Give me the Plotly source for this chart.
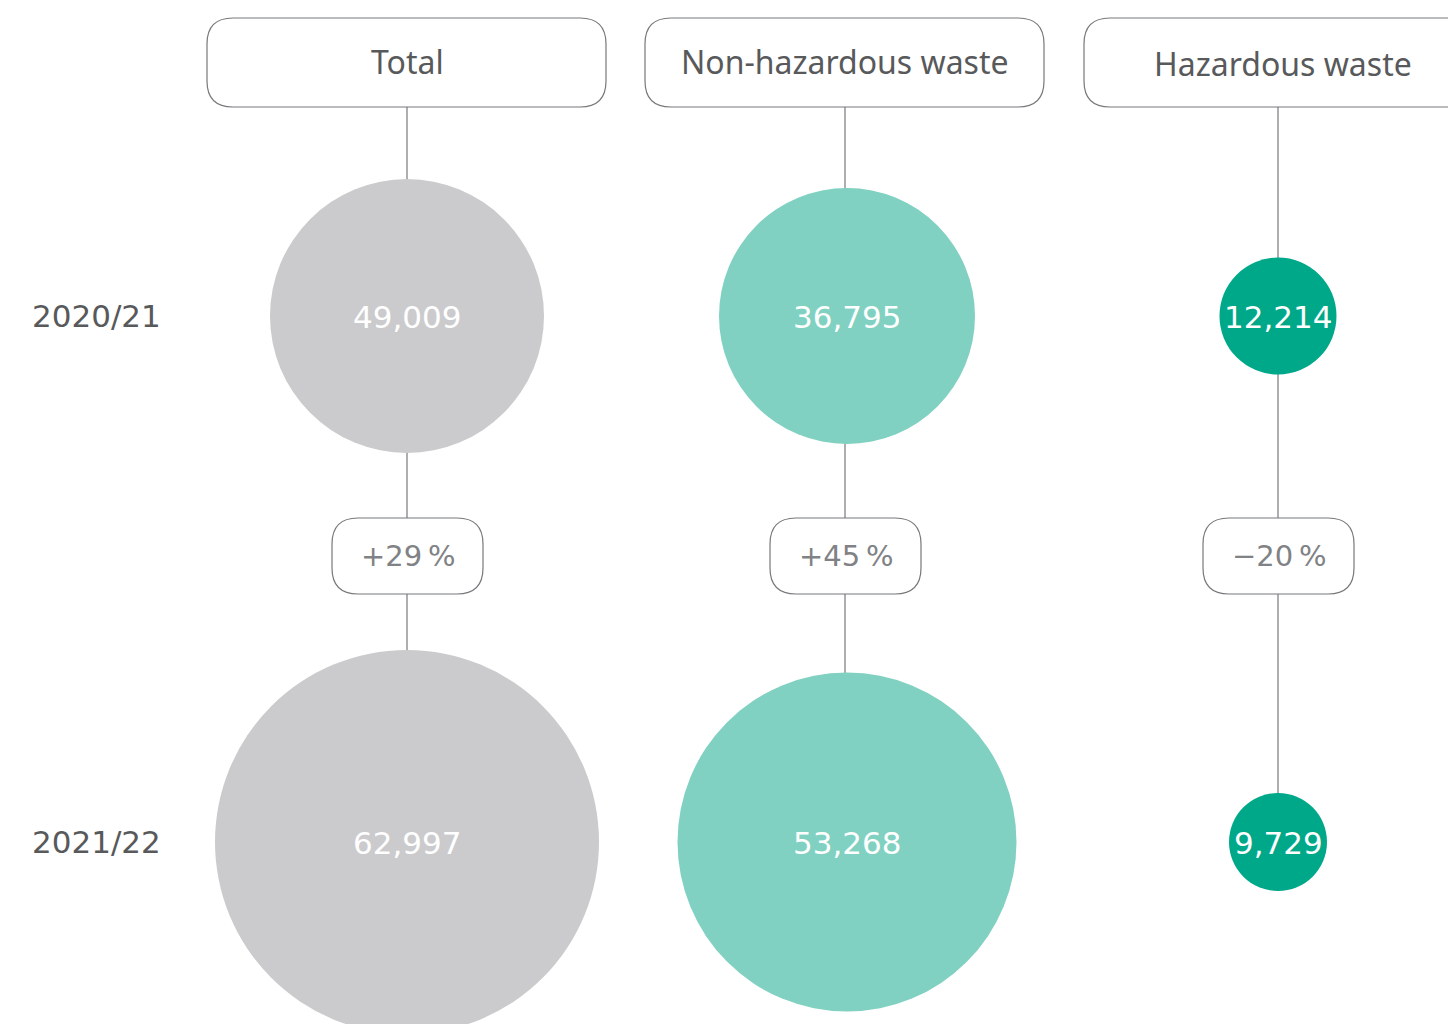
import plotly.graph_objects as go

# ---- data ----
categories = ["Total", "Non-hazardous waste", "Hazardous waste"]
years = ["2020/21", "2021/22"]
values_2020_21 = [49009, 36795, 12214]
values_2021_22 = [62997, 53268, 9729]
changes = ["+29\u2009%", "+45\u2009%", "\u221220\u2009%"]

# ---- layout / style (pixel space) ----
W, H = 1456, 1024
OFF = 8  # page body margin
col_x = [407, 845, 1278]
circle_dx = [0, 2, 0]
row_y = [316, 842]
diam_2020_21 = [274, 256, 117]
diam_2021_22 = [384, 339, 98]
colors = ["#cbcbcd", "#80d1c1", "#00a88a"]
header_boxes = [(207, 606), (645, 1044), (1084, 1500)]
header_top, header_bot = 18, 107
pill_half_w, pill_top, pill_bot = 76, 518, 594
line_col = "#77787b"
text_col = "#58595b"
HFONT = "Noto Sans"
NFONT = "DejaVu Sans"


def rounded_rect(x0, y0, x1, y1, r):
    return (f"M {x0+r},{y0} L {x1-r},{y0} Q {x1},{y0} {x1},{y0+r} "
            f"L {x1},{y1-r} Q {x1},{y1} {x1-r},{y1} L {x0+r},{y1} "
            f"Q {x0},{y1} {x0},{y1-r} L {x0},{y0+r} Q {x0},{y0} {x0+r},{y0} Z")


shapes = []
for i, cx in enumerate(col_x):
    shapes.append(dict(type="line", x0=cx, x1=cx, y0=header_bot, y1=row_y[1],
                       line=dict(color=line_col, width=1.2), layer="below"))
for (x0, x1) in header_boxes:
    shapes.append(dict(type="path", path=rounded_rect(x0, header_top, x1, header_bot, 26),
                       fillcolor="white", line=dict(color=line_col, width=1.2), layer="below"))
for cx in col_x:
    shapes.append(dict(type="path",
                       path=rounded_rect(cx - pill_half_w + 1, pill_top, cx + pill_half_w, pill_bot, 26),
                       fillcolor="white", line=dict(color=line_col, width=1.2), layer="below"))

fig = go.Figure()
annotations = []

for yi, (vals, diams) in enumerate([(values_2020_21, diam_2020_21), (values_2021_22, diam_2021_22)]):
    xs = [cx + d for cx, d in zip(col_x, circle_dx)]
    fig.add_trace(go.Scatter(
        x=xs,
        y=[row_y[yi]] * len(vals),
        mode="markers",
        marker=dict(size=diams, color=colors, line=dict(width=0), sizemode="diameter", opacity=1),
        hoverinfo="skip", showlegend=False, cliponaxis=False,
    ))
    for x, v in zip(xs, vals):
        annotations.append(dict(x=x, y=row_y[yi] + 1, text=f"{v:,}", showarrow=False,
                                xanchor="center", yanchor="middle",
                                font=dict(family=NFONT, size=31, color="white")))

header_text_y = [61, 61, 63]
for i, (cat, (x0, x1)) in enumerate(zip(categories, header_boxes)):
    cx = col_x[i] if i < 2 else 1283
    annotations.append(dict(x=cx, y=header_text_y[i], text=cat, showarrow=False,
                            xanchor="center", yanchor="middle",
                            font=dict(family=HFONT, size=32, color=text_col)))
for cx, ch in zip(col_x, changes):
    annotations.append(dict(x=cx + 1, y=556, text=ch, showarrow=False,
                            xanchor="center", yanchor="middle",
                            font=dict(family=NFONT, size=29, color="#808285")))
for yv, yr in zip(row_y, years):
    annotations.append(dict(x=30, y=yv, text=yr, showarrow=False,
                            xanchor="left", yanchor="middle",
                            font=dict(family=NFONT, size=31, color=text_col)))

fig.update_layout(
    width=W - OFF, height=H - OFF, margin=dict(l=0, r=0, t=0, b=0),
    paper_bgcolor="white", plot_bgcolor="white",
    xaxis=dict(range=[OFF, W], visible=False, fixedrange=True),
    yaxis=dict(range=[H, OFF], visible=False, fixedrange=True),
    shapes=shapes, annotations=annotations, showlegend=False,
)

fig.write_html("out.html")
